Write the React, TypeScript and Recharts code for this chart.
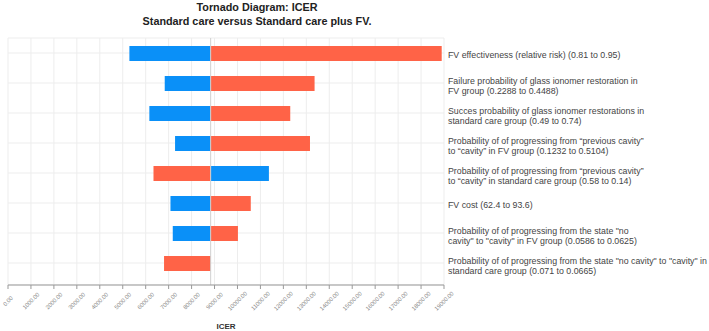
import { BarChart, Bar, XAxis, YAxis, CartesianGrid, ReferenceLine, Cell } from 'recharts';

// ICER at base-case inputs; every bar starts from here
const BASE_ICER = 8832;

const PARAMETER_LABELS: string[][] = [
  ['FV effectiveness (relative risk) (0.81 to 0.95)'],
  ['Failure probability of glass ionomer restoration in', 'FV group (0.2288 to 0.4488)'],
  ['Succes probability of glass ionomer restorations in', 'standard care group (0.49 to 0.74)'],
  ['Probability of of progressing from \u201cprevious cavity\u201d', 'to \u201ccavity\u201d in FV group (0.1232 to 0.5104)'],
  ['Probability of of progressing from \u201cprevious cavity\u201d', 'to \u201ccavity\u201d  in standard care group (0.58 to 0.14)'],
  ['FV cost (62.4 to 93.6)'],
  ['Probability of of progressing from the state "no', 'cavity" to "cavity" in FV group (0.0586 to 0.0625)'],
  ['Probability of of progressing from the state "no cavity" to "cavity" in', 'standard care group (0.071 to 0.0665)'],
];

// ICER at the low end of each parameter range (blue)
const LOW_INPUT_ICER = [5290, 6830, 6160, 7280, 11370, 7080, 7180, 8832];
// ICER at the high end of each parameter range (red)
const HIGH_INPUT_ICER = [18900, 13360, 12300, 13160, 6340, 10580, 10020, 6800];

const X_TICKS = [
  0, 1000, 2000, 3000, 4000, 5000, 6000, 7000, 8000, 9000,
  10000, 11000, 12000, 13000, 14000, 15000, 16000, 17000, 18000, 19000,
];

const BLUE = '#0a90f8';
const RED = '#ff6347';
const FONT = '"Liberation Sans", Arial, sans-serif';

const span = (v: number): [number, number] => [Math.min(BASE_ICER, v), Math.max(BASE_ICER, v)];

const data = PARAMETER_LABELS.map((lines, i) => ({
  name: String(i),
  low: span(LOW_INPUT_ICER[i]),
  high: span(HIGH_INPUT_ICER[i]),
}));

function ParamTick(props: any) {
  const { y, payload } = props;
  const lines = PARAMETER_LABELS[Number(payload.value)];
  const top = lines.length > 1 ? y - 2.5 : y + 1.5;
  return (
    <text x={448} y={top} fill="#444" fontSize={8.8} fontFamily={FONT} dominantBaseline="central">
      {lines.map((l, k) => (
        <tspan key={k} x={448} dy={k === 0 ? 0 : 10.5}>{l}</tspan>
      ))}
    </text>
  );
}

function IcerTick(props: any) {
  const { x, payload } = props;
  return (
    <text
      x={x}
      y={301}
      transform={`rotate(-45, ${x}, 301)`}
      textAnchor="middle"
      dominantBaseline="central"
      fontSize={5.8}
      fontFamily={FONT}
      fill="#888"
    >
      {Number(payload.value).toFixed(2)}
    </text>
  );
}

export default function App() {
  return (
    <div style={{ position: 'absolute', left: 0, top: 0, width: 709, height: 331, background: '#fff' }}>
      <div
        style={{
          position: 'absolute', left: 107, width: 300, top: 1, textAlign: 'center',
          fontFamily: FONT, fontWeight: 700, fontSize: 10.8, lineHeight: '13.5px', color: '#222',
          whiteSpace: 'nowrap',
        }}
      >
        Tornado Diagram: ICER
        <br />
        Standard care versus Standard care plus FV.
      </div>
      <BarChart
        width={709}
        height={331}
        data={data}
        layout="vertical"
        margin={{ top: 38, right: 0, bottom: 0, left: 8 }}
      >
        <CartesianGrid stroke="#ededed" yAxisId={0} />
        <XAxis
          type="number"
          domain={[0, 19000]}
          ticks={X_TICKS}
          interval={0}
          height={46}
          stroke="#999"
          tickSize={4}
          tick={<IcerTick />}
          label={{ value: 'ICER', position: 'insideBottom', offset: 2, fill: '#333', fontSize: 8, fontWeight: 700, fontFamily: FONT }}
        />
        <YAxis
          yAxisId={0}
          type="category"
          dataKey="name"
          orientation="right"
          width={265}
          axisLine={false}
          tickLine={false}
          padding={{ top: 0, bottom: 7 }}
          interval={0}
          tick={<ParamTick />}
        />
        <YAxis yAxisId={1} type="category" dataKey="name" hide padding={{ top: 0, bottom: 7 }} />
        <ReferenceLine x={BASE_ICER} yAxisId={0} stroke="#d0d0d0" />
        <Bar dataKey="low" yAxisId={0} barSize={15} isAnimationActive={false}>
          {data.map((d, i) => (
            <Cell key={i} fill={BLUE} />
          ))}
        </Bar>
        <Bar dataKey="high" yAxisId={1} barSize={15} isAnimationActive={false}>
          {data.map((d, i) => (
            <Cell key={i} fill={RED} />
          ))}
        </Bar>
      </BarChart>
    </div>
  );
}
